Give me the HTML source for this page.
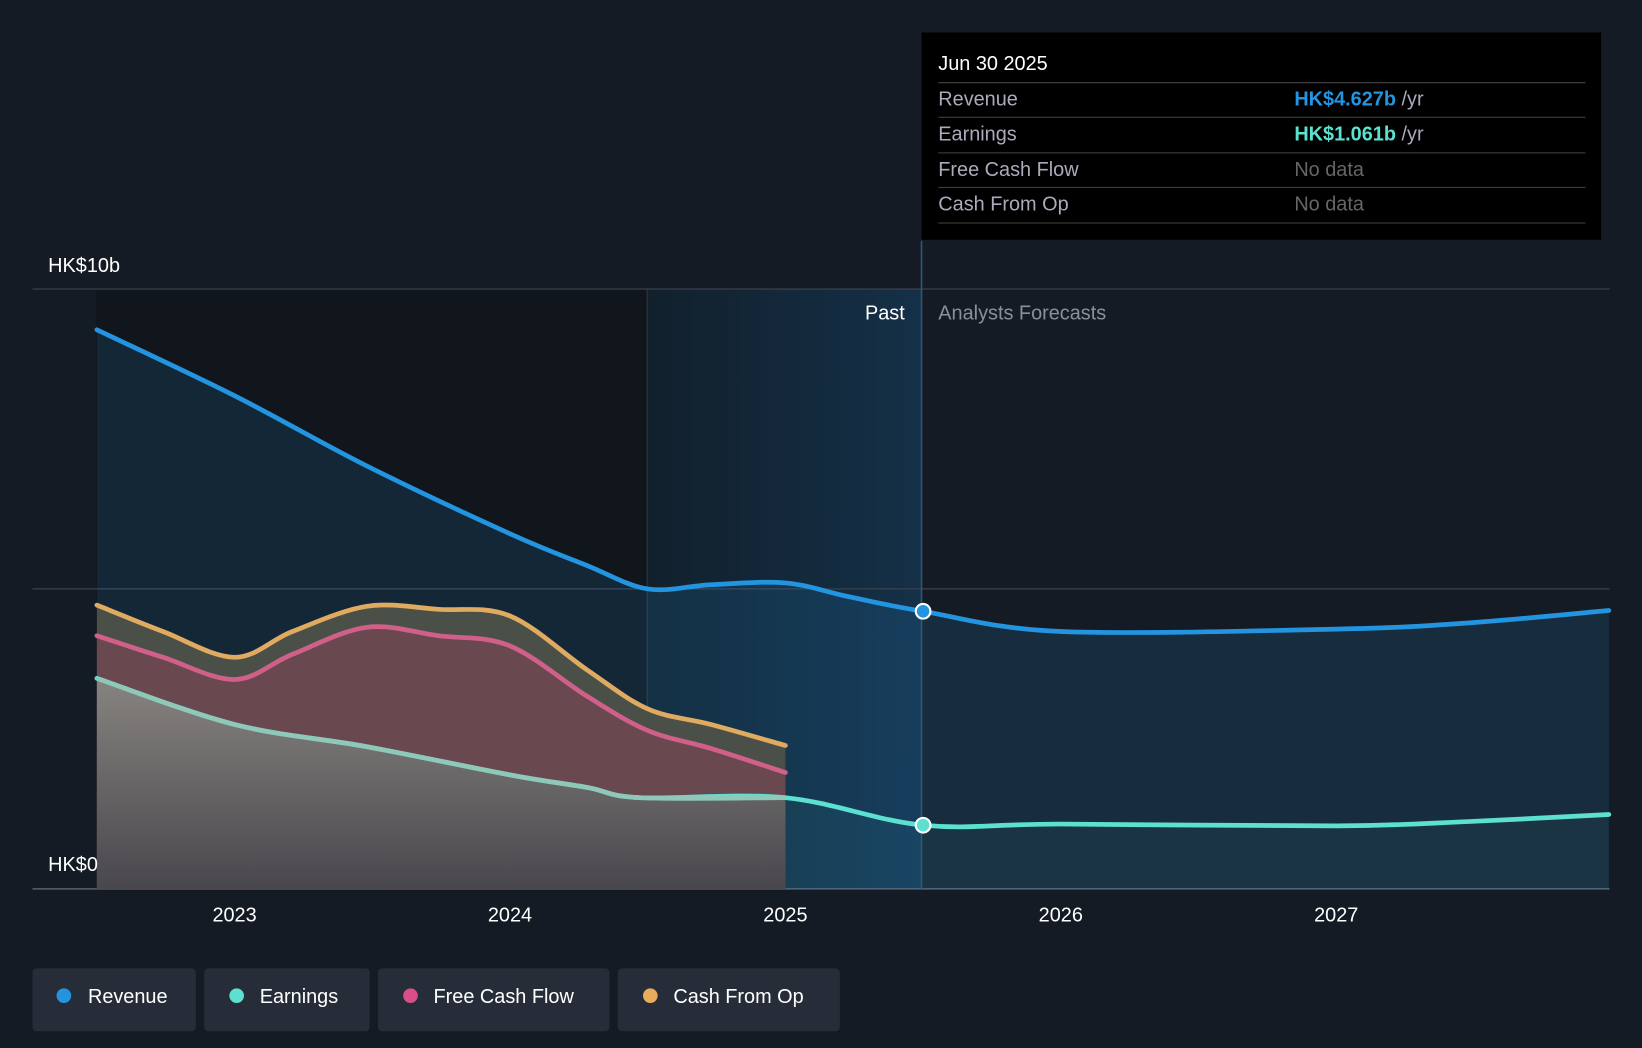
<!DOCTYPE html>
<html><head><meta charset="utf-8"><style>
html,body{margin:0;padding:0;background:#151b24;}
svg{display:block;font-family:"Liberation Sans",Arial,sans-serif;}
</style></head><body>
<svg id="chart" width="1642" height="1048" viewBox="0 0 1568 1001" preserveAspectRatio="none" xmlns="http://www.w3.org/2000/svg">
<defs>
<linearGradient id="hl" x1="0" x2="1" y1="0" y2="0"><stop offset="0" stop-color="#12202c"/><stop offset="1" stop-color="#143048"/></linearGradient>
<linearGradient id="eg" x1="0" x2="0" y1="0" y2="1"><stop offset="0" stop-color="#8a8a85"/><stop offset="1" stop-color="#45474c"/></linearGradient>
</defs>
<rect width="1568" height="1001" fill="#151b24"/>
<rect x="92" y="276" width="526" height="573" fill="#11151c"/>
<rect x="618" y="276" width="262" height="573" fill="url(#hl)"/>
<line x1="618" y1="276" x2="618" y2="849" stroke="#2a3a4a" stroke-width="1"/>
<g id="grid"></g>
<g id="fills"></g>
<g id="lines"></g>
<line x1="880" y1="230" x2="880" y2="849" stroke="#2c5a7a" stroke-width="1.5"/>
<text x="864" y="305" fill="#fff" font-size="19" text-anchor="end">Past</text>
<text x="896" y="305" fill="#8a9099" font-size="19">Analysts Forecasts</text>
<text x="46" y="260" fill="#fff" font-size="19">HK$10b</text>
<text x="46" y="832" fill="#fff" font-size="19">HK$0</text>
<g id="xticks"></g>
<g id="dots"></g>
<g>
<rect x="880" y="31" width="649" height="198" fill="#000"/>
<text x="896" y="67" fill="#fff" font-size="19">Jun 30 2025</text>
<line x1="896" y1="79" x2="1514" y2="79" stroke="#444" />
<text x="896" y="101" fill="#aab" font-size="19">Revenue</text>
<text x="1236" y="101" font-size="19"><tspan fill="#2394df" font-weight="bold">HK$4.627b</tspan><tspan fill="#aab"> /yr</tspan></text>
<line x1="896" y1="112" x2="1514" y2="112" stroke="#444" />
<text x="896" y="134" fill="#aab" font-size="19">Earnings</text>
<text x="1236" y="134" font-size="19"><tspan fill="#5ce0d0" font-weight="bold">HK$1.061b</tspan><tspan fill="#aab"> /yr</tspan></text>
<line x1="896" y1="146" x2="1514" y2="146" stroke="#444" />
<text x="896" y="168" fill="#aab" font-size="19">Free Cash Flow</text>
<text x="1236" y="168" fill="#666" font-size="19">No data</text>
<line x1="896" y1="179" x2="1514" y2="179" stroke="#444" />
<text x="896" y="201" fill="#aab" font-size="19">Cash From Op</text>
<text x="1236" y="201" fill="#666" font-size="19">No data</text>
<line x1="896" y1="213" x2="1514" y2="213" stroke="#444" />
</g>
<g>
<g><rect x="31" y="925" width="156" height="60" rx="4" fill="#262d38"/><circle cx="61" cy="951" r="7" fill="#2394df"/><text x="84" y="958" fill="#fff" font-size="19">Revenue</text></g>
<g><rect x="195" y="925" width="158" height="60" rx="4" fill="#262d38"/><circle cx="226" cy="951" r="7" fill="#5ce0d0"/><text x="248" y="958" fill="#fff" font-size="19">Earnings</text></g>
<g><rect x="361" y="925" width="221" height="60" rx="4" fill="#262d38"/><circle cx="392" cy="951" r="7" fill="#d84e86"/><text x="414" y="958" fill="#fff" font-size="19">Free Cash Flow</text></g>
<g><rect x="590" y="925" width="212" height="60" rx="4" fill="#262d38"/><circle cx="621" cy="951" r="7" fill="#e8ac5a"/><text x="643" y="958" fill="#fff" font-size="19">Cash From Op</text></g>
</g>
</svg>
<script>
const xTicks=[2023,2024,2025,2026,2027];
const revYears=[2022.5,2023,2023.48,2024,2024.28,2024.5,2024.73,2025,2025.23,2025.5,2026,2027,2027.47,2027.99];
const revVals=[9.32,8.22,7.05,5.92,5.39,5.0,5.07,5.1,4.87,4.627,4.29,4.33,4.43,4.64];
const earnYears=[2022.5,2023,2023.48,2024,2024.28,2024.47,2025,2025.5,2026,2027,2027.47,2027.99];
const earnVals=[3.51,2.74,2.37,1.90,1.69,1.52,1.52,1.061,1.08,1.05,1.12,1.24];
const fcfYears=[2022.5,2022.74,2023,2023.21,2023.48,2023.74,2024,2024.28,2024.5,2024.73,2025];
const fcfVals=[4.22,3.86,3.49,3.91,4.36,4.22,4.05,3.21,2.64,2.34,1.94];
const cfoYears=[2022.5,2022.74,2023,2023.21,2023.48,2023.74,2024,2024.28,2024.5,2024.73,2025];
const cfoVals=[4.73,4.29,3.86,4.29,4.71,4.66,4.55,3.65,3.0,2.74,2.39];
const X=y=>224+(y-2023)*263, Y=v=>849-v*57.3;
const NS="http://www.w3.org/2000/svg";
function el(t,a,p){const e=document.createElementNS(NS,t);for(const k in a)e.setAttribute(k,a[k]);document.getElementById(p).appendChild(e);return e;}
function path(xs,vs){const p=xs.map((x,i)=>[X(x),Y(vs[i])]);let d=`M${p[0][0]},${p[0][1]}`;
for(let i=0;i<p.length-1;i++){const p0=p[i-1]||p[i],p1=p[i],p2=p[i+1],p3=p[i+2]||p2;
d+=` C${p1[0]+(p2[0]-p0[0])/6},${p1[1]+(p2[1]-p0[1])/6} ${p2[0]-(p3[0]-p1[0])/6},${p2[1]-(p3[1]-p1[1])/6} ${p2[0]},${p2[1]}`;}return d;}
function area(xs,vs){return path(xs,vs)+` L${X(xs[xs.length-1])},849 L${X(xs[0])},849 Z`;}
let g=el('line',{x1:31,y1:276,x2:1537,y2:276,stroke:'#3a414c','stroke-width':1.2},'grid');

g=el('line',{x1:31,y1:Y(5),x2:1537,y2:Y(5),stroke:'#3a414c','stroke-width':1.2},'grid');

g=el('line',{x1:31,y1:849,x2:1537,y2:849,stroke:'#5a616c','stroke-width':1.5},'grid');

let f=el('path',{d:area(revYears,revVals),fill:'#2394df','fill-opacity':0.14},'fills');

f=el('path',{d:area(cfoYears,cfoVals),fill:'#4a5048','fill-opacity':1},'fills');

f=el('path',{d:area(fcfYears,fcfVals),fill:'#6a4850','fill-opacity':1},'fills');

f=el('path',{d:area(earnYears.slice(0,7),earnVals.slice(0,7)),fill:'url(#eg)','fill-opacity':0.9},'fills');

f=el('path',{d:area(earnYears.slice(6),earnVals.slice(6)),fill:'#5ce0d0','fill-opacity':0.05},'fills');

const series=[[revYears,revVals,'#2394df','revenue-line'],[earnYears,earnVals,'#5ce0d0','earnings-line'],[fcfYears,fcfVals,'#d0608a','free-cash-flow-line'],[cfoYears,cfoVals,'#e0aa60','cash-from-op-line']];
series.forEach(s=>{const l=el('path',{d:path(s[0],s[1]),fill:'none',stroke:s[2],'stroke-width':4.5,'stroke-linecap':'round'},'lines');

});
const pe=el('path',{d:path(earnYears.slice(0,7),earnVals.slice(0,7)),fill:'none',stroke:'#8fc8b8','stroke-width':4.5},'lines');


xTicks.forEach(t=>{const tx=el('text',{x:X(t),y:880,fill:'#fff','font-size':19,'text-anchor':'middle'},'xticks');tx.textContent=t;

});
[[revVals[9],'#2394df','revenue-marker'],[earnVals[7],'#5ce0d0','earnings-marker']].forEach(m=>{const c=el('circle',{cx:X(2025.5),cy:Y(m[0]),r:7,fill:m[1],stroke:'#fff','stroke-width':2},'dots');

});
</script>
</body></html>
